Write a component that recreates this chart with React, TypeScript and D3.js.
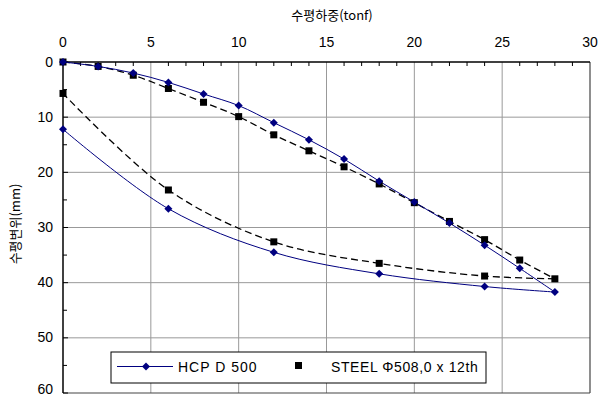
import React from 'react';
import * as d3 from 'd3';

// load (tonf) and displacement (mm)
const hcpLoad = [0, 2, 4, 6, 8, 10, 12, 14, 16, 18, 20, 22, 24, 26, 28, 24, 18, 12, 6, 0];
const hcpDisp = [0, 0.8, 2.0, 3.7, 5.8, 7.9, 11.0, 14.1, 17.6, 21.6, 25.4, 29.2, 33.2, 37.4, 41.7, 40.7, 38.4, 34.5, 26.6, 12.2];
const steelLoad = [0, 2, 4, 6, 8, 10, 12, 14, 16, 18, 20, 22, 24, 26, 28, 24, 18, 12, 6, 0];
const steelDisp = [0, 0.8, 2.4, 4.8, 7.3, 9.9, 13.2, 16.1, 19.0, 22.1, 25.5, 28.9, 32.2, 35.9, 39.3, 38.8, 36.5, 32.6, 23.2, 5.7];

const xTicks = [0, 5, 10, 15, 20, 25, 30];
const yTicks = [0, 10, 20, 30, 40, 50, 60];
const seriesNames = ['HCP D 500', 'STEEL \u03A6508,0 x 12th'];

const numFont = '"Liberation Sans", Arial, sans-serif';
const korFont = '"Noto Sans CJK KR", sans-serif';

export default function App() {
  // dimensions
  const width = 599;
  const height = 398;
  const left = 63, right = 590, top = 62, bottom = 393;

  // scales
  const x = d3.scaleLinear().domain([0, 30]).range([left, right]);
  const y = d3.scaleLinear().domain([0, 60]).range([top, bottom]);

  const hcp = hcpLoad.map((d, i) => [d, hcpDisp[i]]);
  const steel = steelLoad.map((d, i) => [d, steelDisp[i]]);

  const line = d3.line<number[]>()
    .x(d => x(d[0]))
    .y(d => y(d[1]))
    .curve(d3.curveCatmullRom.alpha(0.5));

  // loading and unloading branches meet at the peak load
  const branches = (pts: number[][]) => {
    const peak = d3.maxIndex(pts, d => d[0]);
    return (line(pts.slice(0, peak + 1)) || '') + (line(pts.slice(peak)) || '');
  };

  const minorX = d3.range(0, 31, 1).filter(v => v % 5 !== 0);
  const minorY = d3.range(5, 60, 10);

  const diamond = (cx: number, cy: number, r = 4) =>
    `M${cx},${cy - r}L${cx + r},${cy}L${cx},${cy + r}L${cx - r},${cy}Z`;

  return (
    <svg width={width} height={height} style={{ position: 'absolute', left: 0, top: 0, background: '#fff' }}>
      {/* grid */}
      {xTicks.slice(1, -1).map(t => (
        <line key={'gx' + t} x1={x(t)} x2={x(t)} y1={top} y2={bottom} stroke="#999" strokeWidth={1} />
      ))}
      {yTicks.slice(1, -1).map(t => (
        <line key={'gy' + t} x1={left} x2={right} y1={y(t)} y2={y(t)} stroke="#999" strokeWidth={1} />
      ))}

      {/* frame */}
      <line x1={right} x2={right} y1={top} y2={bottom} stroke="#444" strokeWidth={1.2} />
      <line x1={left} x2={right} y1={bottom} y2={bottom} stroke="#444" strokeWidth={1.2} />
      <line x1={left} x2={right} y1={top} y2={top} stroke="#000" strokeWidth={1.5} />
      <line x1={left} x2={left} y1={top} y2={bottom} stroke="#000" strokeWidth={1.5} />

      {/* ticks */}
      {minorX.map(t => (
        <line key={'mx' + t} x1={x(t)} x2={x(t)} y1={top} y2={top + 4} stroke="#000" strokeWidth={1} />
      ))}
      {minorY.map(t => (
        <line key={'my' + t} x1={left} x2={left + 4} y1={y(t)} y2={y(t)} stroke="#000" strokeWidth={1} />
      ))}
      {yTicks.map(t => (
        <line key={'ty' + t} x1={left} x2={left + 5} y1={y(t)} y2={y(t)} stroke="#000" strokeWidth={1} />
      ))}

      {/* tick labels */}
      {xTicks.map(t => (
        <text key={'lx' + t} x={x(t)} y={47} textAnchor="middle" fontFamily={numFont} fontSize={14}>{t}</text>
      ))}
      {yTicks.map(t => (
        <text key={'ly' + t} x={53} y={Math.min(y(t) + 4.5, 394)} textAnchor="end" fontFamily={numFont} fontSize={14}>{t}</text>
      ))}

      {/* axis titles */}
      <text x={332} y={20} textAnchor="middle" fontFamily={korFont} fontSize={13}>수평하중(tonf)</text>
      <text transform={`translate(20,${224}) rotate(-90)`} textAnchor="middle" fontFamily={korFont} fontSize={13}>수평변위(mm)</text>

      {/* series */}
      <path d={branches(steel)} fill="none" stroke="#000" strokeWidth={1.3} strokeDasharray="7,4" />
      <path d={branches(hcp)} fill="none" stroke="#000080" strokeWidth={1} />
      {steel.map((d, i) => (
        <rect key={'s' + i} x={x(d[0]) - 3.5} y={y(d[1]) - 3.5} width={7} height={7} fill="#000" />
      ))}
      {hcp.map((d, i) => (
        <path key={'h' + i} d={diamond(x(d[0]), y(d[1]))} fill="#000080" />
      ))}

      {/* legend */}
      <rect x={111} y={352} width={375} height={31} fill="#fff" stroke="#000" strokeWidth={1} />
      <line x1={117} x2={173} y1={366.5} y2={366.5} stroke="#000080" strokeWidth={1} />
      <path d={diamond(146, 366.5)} fill="#000080" />
      <text x={178} y={372} fontFamily={numFont} fontSize={14} letterSpacing={1}>{seriesNames[0]}</text>
      <rect x={295} y={362} width={7} height={7} fill="#000" />
      <text x={331} y={372} fontFamily={numFont} fontSize={14} letterSpacing={0.6}>{seriesNames[1]}</text>
    </svg>
  );
}
